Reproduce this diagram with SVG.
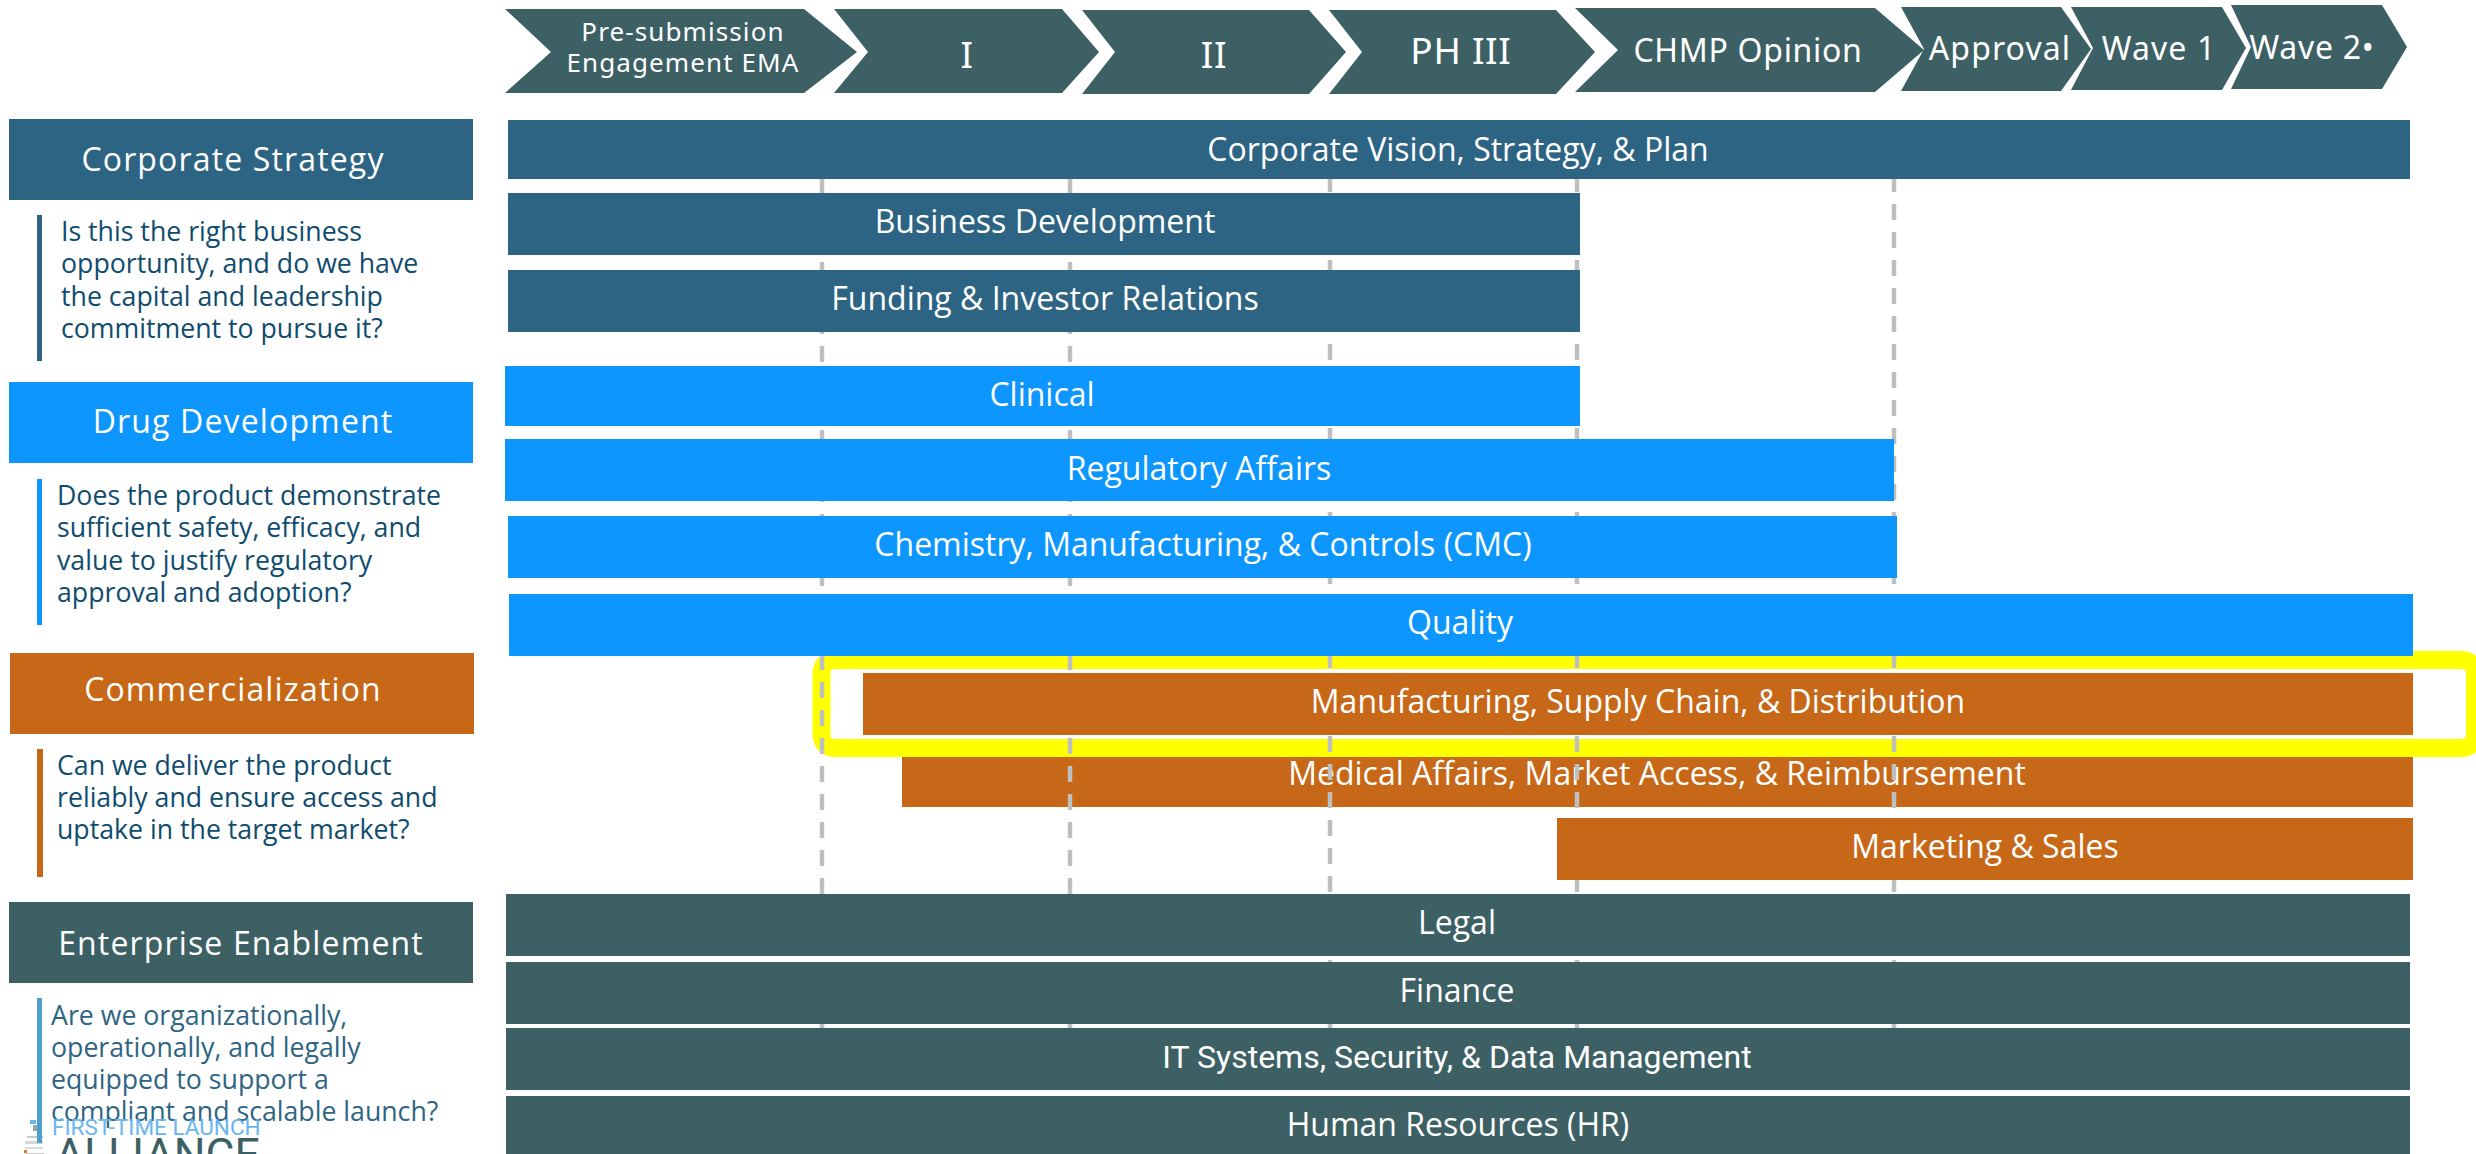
<svg xmlns="http://www.w3.org/2000/svg" width="2476" height="1154" viewBox="0 0 2476 1154">
<style>
text{font-family:"Open Sans","Noto Sans",sans-serif}
.nv{fill:#2d6484}.bl{fill:#0c96fe}.or{fill:#c76818}.te{fill:#3c6064}
.bar{font-size:32px;fill:#fff;text-anchor:middle}
.chev{font-family:"Noto Sans","Open Sans",sans-serif;fill:#fff;text-anchor:middle;letter-spacing:.7px}
.wide{letter-spacing:1.1px}
.hd{font-size:32px;fill:#fff;text-anchor:middle;letter-spacing:1.15px}
.q{font-size:26.7px;fill:#0f4c6e}
.dash{stroke:#bfbfbf;stroke-width:4.5;stroke-dasharray:16 12;fill:none}
</style>
<rect width="2476" height="1154" fill="#fff"/>
<g id="chevrons">
<g id="ph-pre"><polygon class="te" points="505,9 804,9 857,52 804,93 505,93 551,52"/><text class="chev wide" font-size="26" x="683" y="41">Pre-submission</text><text class="chev wide" font-size="26" x="683" y="72">Engagement EMA</text></g>
<g id="ph-1"><polygon class="te" points="834,9 1062,9 1099,52 1062,93 834,93 868,52"/><text class="chev" font-size="37" x="967" y="68">I</text></g>
<g id="ph-2"><polygon class="te" points="1082,10 1309,10 1346,52 1309,94 1082,94 1115,52"/><text class="chev" font-size="37" x="1214" y="68">II</text></g>
<g id="ph-3"><polygon class="te" points="1329,10 1556,10 1595,52 1556,94 1329,94 1362,52"/><text class="chev" font-size="37" x="1461" y="64">PH III</text></g>
<g id="ph-chmp"><polygon class="te" points="1575,8 1875,8 1924,50 1875,92 1575,92 1618,50"/><text class="chev" font-size="32" x="1748" y="62">CHMP Opinion</text></g>
<g id="ph-approval"><polygon class="te" points="1901,7 2061,7 2091,49 2061,91 1901,91 1924,49"/><text class="chev wide" font-size="32" x="2000" y="60">Approval</text></g>
<g id="ph-wave1"><polygon class="te" points="2071,7 2222,7 2246,48 2222,90 2071,90 2093,48"/><text class="chev wide" font-size="32" x="2159" y="60">Wave 1</text></g>
<g id="ph-wave2"><polygon class="te" points="2231,5 2382,5 2407,47 2382,89 2231,89 2251,47"/><text class="chev" font-size="32" x="2312" y="59">Wave 2•</text></g>
</g>
<g id="cat-corporate"><rect class="nv" x="9" y="119" width="464" height="81"/><text class="hd" x="233" y="171">Corporate Strategy</text><rect class="nv" x="37" y="215" width="5" height="146"/><text class="q" x="61" y="241">Is this the right business</text><text class="q" x="61" y="273">opportunity, and do we have</text><text class="q" x="61" y="306">the capital and leadership</text><text class="q" x="61" y="338">commitment to pursue it?</text></g>
<g id="cat-drug"><rect class="bl" x="9" y="382" width="464" height="81"/><text class="hd" x="243" y="433">Drug Development</text><rect class="bl" x="37" y="479" width="5" height="146"/><text class="q" x="57" y="505">Does the product demonstrate</text><text class="q" x="57" y="537">sufficient safety, efficacy, and</text><text class="q" x="57" y="570">value to justify regulatory</text><text class="q" x="57" y="602">approval and adoption?</text></g>
<g id="cat-comm"><rect class="or" x="10" y="653" width="464" height="81"/><text class="hd" x="233" y="701">Commercialization</text><rect class="or" x="37" y="749" width="6" height="128"/><text class="q" x="57" y="775">Can we deliver the product</text><text class="q" x="57" y="807">reliably and ensure access and</text><text class="q" x="57" y="839">uptake in the target market?</text></g>
<g id="logo"><rect x="30" y="1120" width="6" height="4" fill="#6bb5ee"/><rect x="33" y="1125" width="5" height="6" fill="#9aa5ab"/><rect x="27" y="1136" width="16" height="2" fill="#c5c9cb"/><rect x="25" y="1141" width="18" height="3" fill="#d5d8da"/><rect x="25" y="1147" width="18" height="2" fill="#d9dcde"/><rect x="24" y="1150" width="3" height="3" fill="#d9792b"/><rect x="26" y="1153" width="18" height="1" fill="#c5c9cb"/></g>
<g id="cat-enterprise"><rect class="te" x="9" y="902" width="464" height="81"/><text class="hd" x="241" y="955">Enterprise Enablement</text><rect x="37" y="998" width="5" height="145" fill="#4ea0cc"/><text class="q" x="51" y="1025" style="fill:#2e6583">Are we organizationally,</text><text class="q" x="51" y="1057" style="fill:#2e6583">operationally, and legally</text><text class="q" x="51" y="1089" style="fill:#2e6583">equipped to support a</text><text class="q" x="51" y="1121" style="fill:#2e6583">compliant and scalable launch?</text></g>
<g id="logo-text"><text x="52" y="1135" font-size="22.5" fill="#6bb5ee" style="font-family:Roboto,sans-serif">FIRST-TIME LAUNCH</text><text x="55" y="1170" font-size="44.6" fill="#3c6064" style="font-family:Roboto,sans-serif">ALLIANCE</text></g>
<g id="bar-medical"><rect class="or" x="902" y="745" width="1511" height="62"/><text class="bar" x="1657" y="785">Medical Affairs, Market Access, &amp; Reimbursement</text></g>
<rect id="highlight" x="821.5" y="660" width="1653.5" height="88" rx="13" fill="none" stroke="#ffff00" stroke-width="18"/>
<g id="connectors">
<line class="dash" x1="822" y1="178" x2="822" y2="1090"/>
<line class="dash" x1="1070" y1="178" x2="1070" y2="1090"/>
<line class="dash" x1="1330" y1="176" x2="1330" y2="1090"/>
<line class="dash" x1="1577" y1="176" x2="1577" y2="1090"/>
<line class="dash" x1="1894" y1="176" x2="1894" y2="1090"/>
</g>
<g id="bar-vision"><rect class="nv" x="508" y="120" width="1902" height="59"/><text class="bar" x="1458" y="160.5">Corporate Vision, Strategy, &amp; Plan</text></g>
<g id="bar-bd"><rect class="nv" x="508" y="193" width="1072" height="62"/><text class="bar" x="1045" y="233">Business Development</text></g>
<g id="bar-funding"><rect class="nv" x="508" y="270" width="1072" height="62"/><text class="bar" x="1045" y="310">Funding &amp; Investor Relations</text></g>
<g id="bar-clinical"><rect class="bl" x="505" y="366" width="1075" height="60"/><text class="bar" x="1042" y="406">Clinical</text></g>
<g id="bar-regulatory"><rect class="bl" x="505" y="439" width="1389" height="62"/><text class="bar" x="1199" y="480">Regulatory Affairs</text></g>
<g id="bar-cmc"><rect class="bl" x="508" y="516" width="1389" height="62"/><text class="bar" x="1203" y="556">Chemistry, Manufacturing, &amp; Controls (CMC)</text></g>
<g id="bar-quality"><rect class="bl" x="509" y="594" width="1904" height="62"/><text class="bar" x="1460" y="634">Quality</text></g>
<g id="bar-manufacturing"><rect class="or" x="863" y="673" width="1550" height="62"/><text class="bar" x="1638" y="713">Manufacturing, Supply Chain, &amp; Distribution</text></g>
<g id="bar-marketing"><rect class="or" x="1557" y="818" width="856" height="62"/><text class="bar" x="1985" y="858">Marketing &amp; Sales</text></g>
<g id="bar-legal"><rect class="te" x="506" y="894" width="1904" height="62"/><text class="bar" x="1457" y="934">Legal</text></g>
<g id="bar-finance"><rect class="te" x="506" y="962" width="1904" height="62"/><text class="bar" x="1457" y="1002">Finance</text></g>
<g id="bar-it"><rect class="te" x="506" y="1028" width="1904" height="62"/><text class="bar" x="1457" y="1068" style="font-family:Roboto,sans-serif">IT Systems, Security, &amp; Data Management</text></g>
<g id="bar-hr"><rect class="te" x="506" y="1096" width="1904" height="62"/><text class="bar" x="1458" y="1136">Human Resources (HR)</text></g>
</svg>
